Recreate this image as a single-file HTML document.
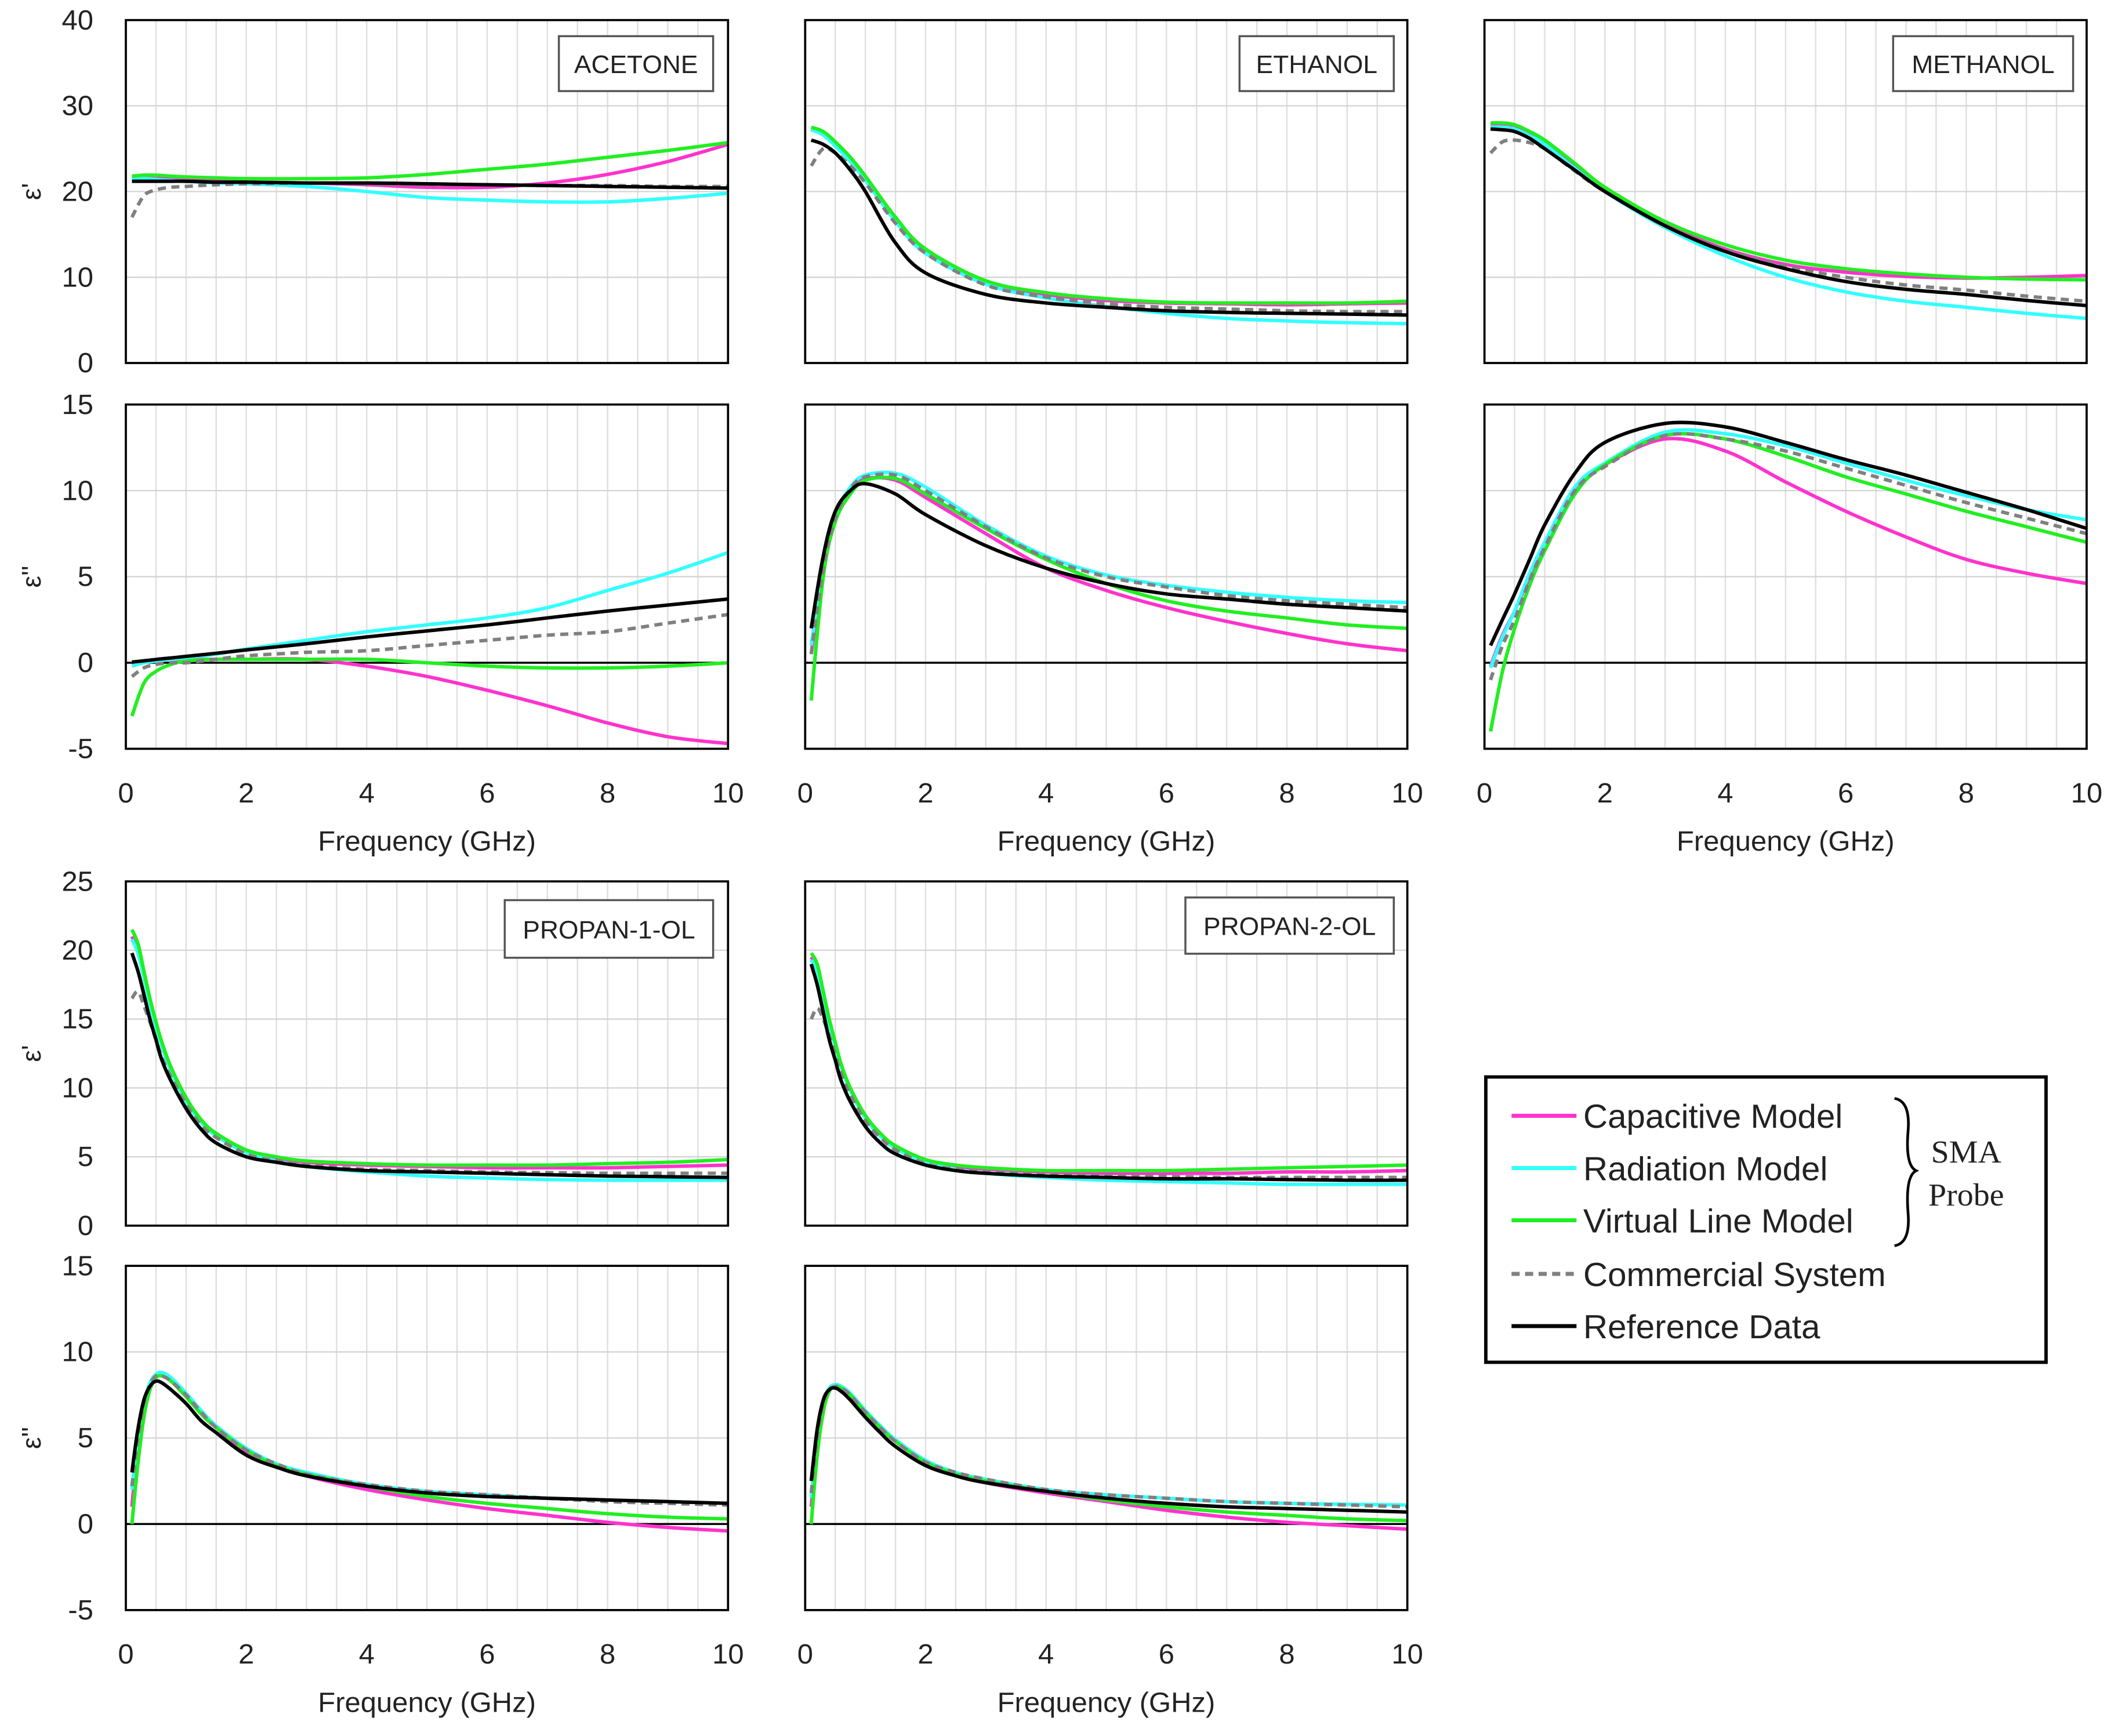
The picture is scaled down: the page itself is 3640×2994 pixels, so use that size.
<!DOCTYPE html>
<html><head><meta charset="utf-8"><style>
html,body{margin:0;padding:0;background:#fff}
svg{display:block}
text{font-family:"Liberation Sans",sans-serif;fill:#222}
</style></head><body>
<svg id="fig" width="3640" height="2994" viewBox="0 0 1560 1296" preserveAspectRatio="none" xmlns="http://www.w3.org/2000/svg">
<rect x="0" y="0" width="1560" height="1296" fill="#fff"/>
<g id="panels"></g>
<g>
<rect x="1098" y="804" width="414" height="213" fill="#fff" stroke="#000" stroke-width="2.5"/>
<line x1="1117" y1="833" x2="1165" y2="833" stroke="#ff33cc" stroke-width="3"/>
<text x="1170" y="842" font-size="25">Capacitive Model</text>
<line x1="1117" y1="872" x2="1165" y2="872" stroke="#33ffff" stroke-width="3"/>
<text x="1170" y="881" font-size="25">Radiation Model</text>
<line x1="1117" y1="911" x2="1165" y2="911" stroke="#22ee22" stroke-width="3"/>
<text x="1170" y="920" font-size="25">Virtual Line Model</text>
<line x1="1117" y1="951" x2="1165" y2="951" stroke="#808080" stroke-width="3" stroke-dasharray="6,4"/>
<text x="1170" y="960" font-size="25">Commercial System</text>
<line x1="1117" y1="990" x2="1165" y2="990" stroke="#000" stroke-width="3"/>
<text x="1170" y="999" font-size="25">Reference Data</text>
<path d="M1400,820 Q1412,822 1410,845 Q1408,870 1416,874 Q1408,878 1410,905 Q1412,928 1400,930" fill="none" stroke="#000" stroke-width="2"/>
<text x="1453" y="868" font-size="24" text-anchor="middle" style="font-family:'Liberation Serif',serif">SMA</text>
<text x="1453" y="900" font-size="24" text-anchor="middle" style="font-family:'Liberation Serif',serif">Probe</text>
</g>
</svg>
<script>
const F=[0.1,0.3,0.5,0.75,1,1.5,2,3,4,5,6,7,8,9,10];
const G=[0.1,0.2,0.3,0.4,0.5,0.6,0.75,1,1.25,1.5,2,2.5,3,4,5,6,7,8,9,10];
const xTicks=[0,2,4,6,8,10];
const realTicksA=[0,10,20,30,40];
const imagTicks=[-5,0,5,10,15];
const realTicksP=[0,5,10,15,20,25];
const seriesNames=["Capacitive","Radiation","VirtualLine","Commercial","Reference"];

const aceReCap=[21.5,21.5,21.5,21.4,21.3,21.2,21.1,21,20.8,20.5,20.5,21,22,23.5,25.5];
const aceReRad=[21.5,21.5,21.4,21.3,21.2,21,20.9,20.6,20,19.3,19,18.8,18.8,19.2,19.8];
const aceReVlm=[21.8,21.9,21.9,21.8,21.7,21.6,21.5,21.5,21.6,22,22.6,23.2,24,24.8,25.7];
const aceReCom=[17,19.5,20.2,20.5,20.6,20.8,20.9,21,20.9,20.8,20.8,20.7,20.7,20.6,20.6];
const aceReRef=[21.2,21.2,21.2,21.2,21.2,21.1,21.1,21,21,20.9,20.8,20.7,20.6,20.5,20.4];
const aceImCap=[0,0.1,0.1,0.2,0.2,0.2,0.2,0.2,-0.2,-0.8,-1.6,-2.5,-3.5,-4.3,-4.7];
const aceImRad=[-0.2,0,0.1,0.2,0.3,0.5,0.8,1.3,1.8,2.2,2.6,3.2,4.2,5.2,6.4];
const aceImVlm=[-3.1,-1.2,-0.5,-0.1,0.1,0.2,0.2,0.2,0.2,0,-0.2,-0.3,-0.3,-0.2,0];
const aceImCom=[-0.8,-0.3,-0.1,0,0,0.2,0.4,0.6,0.7,1,1.3,1.6,1.8,2.3,2.8];
const aceImRef=[0.04,0.11,0.19,0.28,0.37,0.55,0.74,1.1,1.5,1.85,2.2,2.6,3,3.35,3.7];

const ethReCap=[27.3,26.8,25.5,23.7,21.5,16.7,13,9.4,8,7.3,7,6.9,6.8,6.9,7];
const ethReRad=[27.2,26.6,25.3,23.5,21.3,16.5,12.8,9.2,7.6,6.6,5.8,5.2,4.9,4.7,4.6];
const ethReVlm=[27.5,27,25.8,24,21.8,17,13.3,9.6,8.2,7.5,7.1,7,7,7,7.2];
const ethReCom=[23,25,24.5,23,21,16.3,12.8,9.1,7.7,6.9,6.5,6.3,6.1,6,6];
const ethReRef=[26,25.5,24.5,22.5,20,14,10.5,8,7,6.5,6.1,5.9,5.8,5.7,5.6];
const ethImCap=[0.5,5.5,8.3,10,10.7,10.6,9.6,7.5,5.5,4.2,3.2,2.4,1.7,1.1,0.7];
const ethImRad=[1,5.8,8.6,10.2,10.9,11,10.2,8,6.2,5.1,4.5,4.1,3.8,3.6,3.5];
const ethImVlm=[-2.2,5,8.2,9.8,10.6,10.7,9.8,7.8,6,4.6,3.6,3,2.6,2.2,2];
const ethImCom=[0.5,5.5,8.4,10.1,10.8,10.9,10,7.9,6.1,5,4.4,3.9,3.6,3.4,3.2];
const ethImRef=[2,6.2,8.8,10,10.4,9.8,8.6,6.8,5.5,4.6,4,3.7,3.4,3.2,3];

const metReCap=[27.8,27.8,27.5,26.8,25.8,23,20.3,16.2,13.3,11.5,10.6,10.1,9.9,10,10.2];
const metReRad=[27.5,27.5,27.3,26.5,25.5,22.7,20,15.8,12.5,10,8.3,7.2,6.5,5.8,5.2];
const metReVlm=[28,28,27.8,27,26,23.3,20.5,16.5,13.8,12,11,10.4,10,9.8,9.7];
const metReCom=[24.5,25.8,26,25.7,25,22.4,20,16,13.2,11.3,10,9.1,8.5,7.8,7.2];
const metReRef=[27.3,27.2,27,26.2,25,22.5,20,16,13,11,9.5,8.6,8,7.3,6.7];
const metImCap=[-0.2,1.6,3,5,7,10,11.5,13,12.3,10.5,8.8,7.3,6,5.2,4.6];
const metImRad=[-0.3,1.5,3,5.2,7,10.2,11.6,13.4,13.3,12.6,11.6,10.6,9.7,8.9,8.3];
const metImVlm=[-4,-0.5,2,4.5,6.5,9.8,11.5,13.2,13,12,10.8,9.8,8.8,7.9,7];
const metImCom=[-1,1,2.5,4.8,6.7,10,11.4,13.2,13,12.3,11.3,10.3,9.3,8.4,7.5];
const metImRef=[1,2.5,4,6,8,11,12.8,13.9,13.7,12.8,11.8,10.9,9.9,8.9,7.8];

const p1ReCap=[21,20,18.2,16.3,14.6,13.1,11.3,9.1,7.6,6.6,5.4,4.9,4.6,4.4,4.3,4.2,4.2,4.2,4.3,4.4];
const p1ReRad=[20.8,19.8,18,16.1,14.4,13,11.2,9,7.5,6.5,5.3,4.7,4.3,3.9,3.6,3.45,3.35,3.3,3.3,3.3];
const p1ReVlm=[21.5,20.5,18.5,16.5,14.8,13.3,11.5,9.3,7.7,6.7,5.5,5,4.7,4.5,4.4,4.4,4.4,4.5,4.6,4.8];
const p1ReCom=[16.5,17,16,14.8,13.5,12.2,10.8,8.8,7.3,6.4,5.2,4.7,4.4,4.1,4,3.9,3.85,3.8,3.8,3.8];
const p1ReRef=[19.8,18.5,16.8,15,13.5,12,10.5,8.5,7,6,5,4.6,4.3,4,3.9,3.8,3.7,3.6,3.55,3.5];
const p1ImCap=[1,4.5,6.8,8,8.6,8.7,8.4,7.5,6.5,5.6,4.2,3.4,2.8,2,1.4,0.9,0.5,0.1,-0.2,-0.4];
const p1ImRad=[2,5,7,8.2,8.7,8.8,8.5,7.6,6.6,5.7,4.4,3.5,3,2.3,1.9,1.7,1.5,1.4,1.3,1.2];
const p1ImVlm=[0,3.5,6.2,7.8,8.5,8.6,8.3,7.4,6.4,5.6,4.3,3.4,2.9,2.2,1.6,1.2,0.9,0.6,0.4,0.3];
const p1ImCom=[2.2,5,7,8.1,8.6,8.6,8.3,7.5,6.5,5.6,4.3,3.5,2.9,2.3,1.9,1.7,1.5,1.3,1.2,1.1];
const p1ImRef=[3,5.5,7.2,8,8.3,8.2,7.8,7,6,5.3,4,3.3,2.8,2.2,1.8,1.6,1.5,1.4,1.3,1.2];

const p2ReCap=[19.5,18.7,16.8,14.8,13.1,11.6,9.9,7.9,6.6,5.7,4.7,4.3,4.1,3.9,3.8,3.8,3.8,3.9,3.9,4];
const p2ReRad=[19.3,18.5,16.6,14.6,13,11.5,9.8,7.8,6.5,5.6,4.6,4.1,3.8,3.5,3.3,3.2,3.1,3,3,3];
const p2ReVlm=[19.8,19,17,15,13.3,11.7,10,8,6.7,5.8,4.8,4.4,4.2,4,4,4,4.1,4.2,4.3,4.4];
const p2ReCom=[15,15.8,15,13.8,12.4,11,9.5,7.6,6.4,5.5,4.5,4.1,3.9,3.7,3.6,3.55,3.5,3.5,3.5,3.5];
const p2ReRef=[19,17.5,15.5,13.5,12,10.5,9,7.2,6,5.2,4.4,4,3.8,3.6,3.5,3.4,3.4,3.35,3.3,3.3];
const p2ImCap=[1,4.7,6.8,7.8,8.1,7.9,7.5,6.5,5.6,4.8,3.6,2.9,2.4,1.8,1.3,0.8,0.4,0.1,-0.1,-0.3];
const p2ImRad=[1.5,5,7,7.9,8.1,8,7.6,6.6,5.7,4.9,3.7,3,2.6,2,1.7,1.5,1.3,1.2,1.15,1.1];
const p2ImVlm=[0,4,6.5,7.7,8,7.9,7.5,6.5,5.6,4.8,3.6,2.9,2.5,1.9,1.4,1,0.7,0.5,0.3,0.2];
const p2ImCom=[1.8,5,7,7.8,8,7.9,7.5,6.5,5.6,4.8,3.6,3,2.6,2,1.7,1.5,1.3,1.2,1.1,1];
const p2ImRef=[2.5,5.5,7.2,7.8,7.9,7.7,7.2,6.2,5.3,4.5,3.4,2.8,2.4,1.9,1.5,1.2,1,0.9,0.8,0.7];

const NS="http://www.w3.org/2000/svg";
const root=document.getElementById('panels');
const colors=["#ff33cc","#33ffff","#22ee22","#808080","#000000"];
const colX=[93,595,1097], W=445;
function mk(tag,attrs,parent){const e=document.createElementNS(NS,tag);for(const k in attrs)e.setAttribute(k,attrs[k]);(parent||root).appendChild(e);return e;}
function pathFrom(pts){
  let d="M"+pts[0][0].toFixed(1)+","+pts[0][1].toFixed(1);
  for(let i=0;i<pts.length-1;i++){
    const p0=pts[Math.max(0,i-1)],p1=pts[i],p2=pts[i+1],p3=pts[Math.min(pts.length-1,i+2)];
    const c1=[p1[0]+(p2[0]-p0[0])/6,p1[1]+(p2[1]-p0[1])/6];
    const c2=[p2[0]-(p3[0]-p1[0])/6,p2[1]-(p3[1]-p1[1])/6];
    d+=" C"+c1[0].toFixed(1)+","+c1[1].toFixed(1)+" "+c2[0].toFixed(1)+","+c2[1].toFixed(1)+" "+p2[0].toFixed(1)+","+p2[1].toFixed(1);
  }
  return d;
}
let pid=0;
function panel(name,col,top,h,ymin,ymax,ticks,freqs,series,opts){
  const x0=colX[col];
  const g=mk('g',{});
  
  
  const xs=v=>x0+v/10*W, ys=v=>top+h-(v-ymin)/(ymax-ymin)*h;
  for(let f=0.5;f<10;f+=0.5) mk('line',{x1:xs(f),x2:xs(f),y1:top,y2:top+h,stroke:'#dedede','stroke-width':1},g);
  ticks.forEach(t=>{ if(t>ymin&&t<ymax) mk('line',{x1:x0,x2:x0+W,y1:ys(t),y2:ys(t),stroke:'#d4d4d4','stroke-width':1},g);});
  if(ymin<0) mk('line',{x1:x0,x2:x0+W,y1:ys(0),y2:ys(0),stroke:'#000','stroke-width':1.5},g);
  const cid='clip'+(pid++);
  const cp=mk('clipPath',{id:cid},g); mk('rect',{x:x0,y:top,width:W,height:h},cp);
  series.forEach((vals,si)=>{
    const pts=freqs.map((f,i)=>[xs(f),ys(vals[i])]);
    const p=mk('path',{d:pathFrom(pts),fill:'none',stroke:colors[si],'stroke-width':2.6,'clip-path':'url(#'+cid+')'},g);
    if(si===3) p.setAttribute('stroke-dasharray','6,4');
    
    
  });
  mk('rect',{x:x0,y:top,width:W,height:h,fill:'none',stroke:'#000','stroke-width':1.6},g);
  if(col===0){
    ticks.forEach(t=>{ const tx=mk('text',{x:x0-24,y:ys(t)+7,'font-size':21,'text-anchor':'end'},g); tx.textContent=t;});
    const yl=mk('text',{x:0,y:0,'font-size':20,'text-anchor':'middle',transform:'translate(30,'+(top+h/2)+') rotate(-90)'},g);
    yl.textContent=opts.ylab;
    
    
  }
  if(opts.xaxis){
    xTicks.forEach(t=>{ const tx=mk('text',{x:xs(t),y:top+h+40,'font-size':21,'text-anchor':'middle'},g); tx.textContent=t;});
    const xl=mk('text',{x:x0+W/2,y:top+h+76,'font-size':21,'text-anchor':'middle'},g);
    xl.textContent='Frequency (GHz)';
    
    
  }
  if(opts.label){
    const b=opts.label;
    mk('rect',{x:b[1],y:b[2],width:b[3],height:b[4],fill:'#fff',stroke:'#555','stroke-width':1.5},g);
    const tx=mk('text',{x:b[1]+b[3]/2,y:b[2]+b[4]/2+7,'font-size':19,'text-anchor':'middle'},g);
    tx.textContent=b[0];
    
    
  }
}
panel('acetone-real',0,15,256,0,40,realTicksA,F,[aceReCap,aceReRad,aceReVlm,aceReCom,aceReRef],{ylab:"ε'",label:['ACETONE',413,27,114,41]});
panel('ethanol-real',1,15,256,0,40,realTicksA,F,[ethReCap,ethReRad,ethReVlm,ethReCom,ethReRef],{label:['ETHANOL',916,27,114,41]});
panel('methanol-real',2,15,256,0,40,realTicksA,F,[metReCap,metReRad,metReVlm,metReCom,metReRef],{label:['METHANOL',1399,27,133,41]});
panel('acetone-imag',0,302,257,-5,15,imagTicks,F,[aceImCap,aceImRad,aceImVlm,aceImCom,aceImRef],{ylab:"ε''",xaxis:true});
panel('ethanol-imag',1,302,257,-5,15,imagTicks,F,[ethImCap,ethImRad,ethImVlm,ethImCom,ethImRef],{xaxis:true});
panel('methanol-imag',2,302,257,-5,15,imagTicks,F,[metImCap,metImRad,metImVlm,metImCom,metImRef],{xaxis:true});
panel('propan1-real',0,658,257,0,25,realTicksP,G,[p1ReCap,p1ReRad,p1ReVlm,p1ReCom,p1ReRef],{ylab:"ε'",label:['PROPAN-1-OL',373,672,154,43]});
panel('propan2-real',1,658,257,0,25,realTicksP,G,[p2ReCap,p2ReRad,p2ReVlm,p2ReCom,p2ReRef],{label:['PROPAN-2-OL',876,670,154,42]});
panel('propan1-imag',0,945,257,-5,15,imagTicks,G,[p1ImCap,p1ImRad,p1ImVlm,p1ImCom,p1ImRef],{ylab:"ε''",xaxis:true});
panel('propan2-imag',1,945,257,-5,15,imagTicks,G,[p2ImCap,p2ImRad,p2ImVlm,p2ImCom,p2ImRef],{xaxis:true});
</script>
</body></html>
